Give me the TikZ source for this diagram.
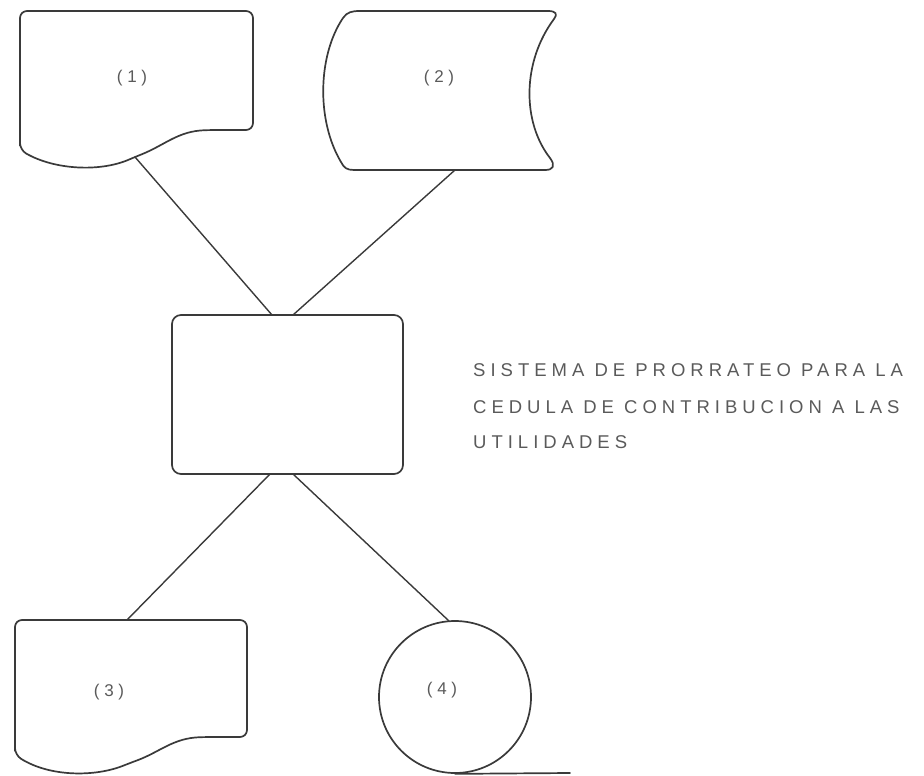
\documentclass[tikz,border=0pt]{standalone}
\usepackage{fontspec}
\setmainfont{Liberation Sans}
\newfontfamily\captionfont[LetterSpace=27]{Liberation Sans}
\newfontfamily\tagfont[LetterSpace=28]{Liberation Sans}
\definecolor{ink}{HTML}{3A3A3A}
\definecolor{textgray}{HTML}{5A5A5A}

\begin{document}
\begin{tikzpicture}[x=1pt,y=-1pt,
  outline/.style={draw=ink, line width=1.7pt, line join=round, line cap=round},
  link/.style={draw=ink, line width=1.4pt, line cap=round},
  tag/.style={text=textgray, font=\tagfont\fontsize{17}{17}\selectfont, inner sep=0pt},
  caption/.style={text=textgray, font=\captionfont\fontsize{18.5}{18.5}\selectfont, inner sep=0pt, anchor=base west}]

\useasboundingbox (0,0) rectangle (924,776);

% document (1)
\draw[outline, rounded corners=7pt]
  (20,150) -- (20,11) -- (253,11) -- (253,130) -- (212,130)
  .. controls (178,131) and (165,145) .. (135,157)
  .. controls (100,172) and (55,170) .. (20,150) -- cycle;
\coordinate (d1-out) at (135,157);
\node[tag] (t1) at (132,78) {(1)};

% stored data (2)
\draw[outline]
  (360,11) -- (548,11)
  .. controls (556,11) and (558,14) .. (554,19)
  .. controls (522,62) and (522,122) .. (550,158)
  .. controls (556,166) and (553,170) .. (545,170)
  -- (354,170)
  .. controls (347,170) and (344,168) .. (341,162)
  .. controls (316,120) and (318,55) .. (343,18)
  .. controls (347,12) and (352,11) .. (360,11) -- cycle;
\coordinate (d2-out) at (455,170);
\node[tag] (t2) at (439,78) {(2)};

% process box
\node[outline, rounded corners=9pt, minimum width=231pt, minimum height=159pt, inner sep=0pt]
  (proc) at (287.5,394.5) {};
\coordinate (p-in1) at (272,315);
\coordinate (p-in2) at (293,315);
\coordinate (p-out1) at (270,474);
\coordinate (p-out2) at (293,474);

% document (3)
\begin{scope}[shift={(-5,609)}]
  \draw[outline, rounded corners=7pt]
    (20,146) -- (20,11) -- (252,11) -- (252,128) -- (212,128)
    .. controls (178,129) and (165,143) .. (135,154)
    .. controls (100,168) and (55,168) .. (20,146) -- cycle;
\end{scope}
\coordinate (d3-in) at (127,620);
\node[tag] (t3) at (109,692) {(3)};

% magnetic tape (4)
\node[outline, circle, minimum size=152pt, inner sep=0pt] (tape) at (455,697) {};
\coordinate (tape-in) at (449,621);
\coordinate (tape-end) at (570,773);
\draw[outline] (tape.south) -- (tape-end);
\node[tag] (t4) at (442,690) {(4)};

% connectors
\draw[link] (d1-out) -- (p-in1);
\draw[link] (d2-out) -- (p-in2);
\draw[link] (p-out1) -- (d3-in);
\draw[link] (p-out2) -- (tape-in);

% caption
\node[caption] (cap1) at (473,376) {SISTEMA DE PRORRATEO PARA LA};
\node[caption] (cap2) at (473,413) {CEDULA DE CONTRIBUCION A LAS};
\node[caption] (cap3) at (473,448) {UTILIDADES};

\end{tikzpicture}
\end{document}
